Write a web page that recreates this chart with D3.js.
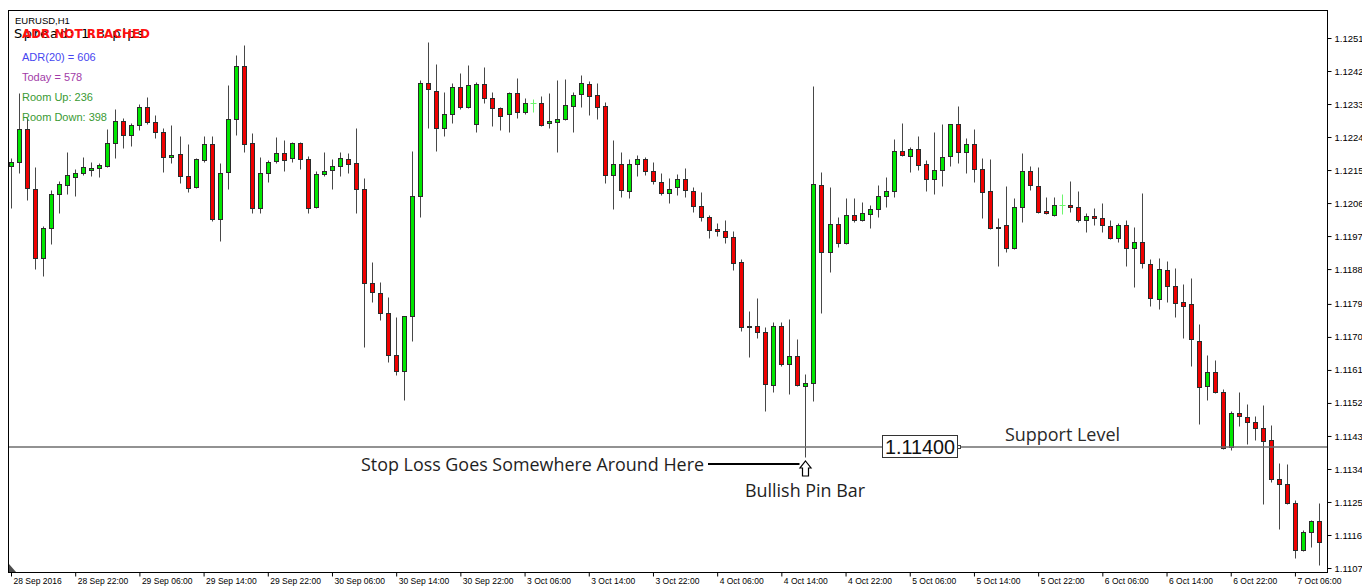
<!DOCTYPE html>
<html>
<head>
<meta charset="utf-8">
<script src="https://cdn.jsdelivr.net/npm/d3@7"></script>
<style>
  html, body { margin: 0; padding: 0; background: #fff; }
  svg { display: block; }
</style>
</head>
<body>
<div id="chart"></div>
<script>
// EURUSD H1 candles (28 Sep 2016 14:00 .. 7 Oct 2016)
const opens = [
  1.12166,1.12177,1.12267,1.12103,1.11915,1.11997,1.12090,1.12114,1.12136,1.12147,
  1.12155,1.12161,1.12166,1.12229,1.12289,1.12251,1.12278,1.12327,1.12286,1.12259,
  1.12191,1.12199,1.12139,1.12109,1.12182,1.12226,1.12022,1.12150,1.12294,1.12439,
  1.12229,1.12052,1.12147,1.12180,1.12201,1.12188,1.12229,1.12185,1.12054,1.12144,
  1.12155,1.12166,1.12185,1.12174,1.12103,1.11847,1.11820,1.11765,1.11651,1.11607,
  1.11757,1.12084,1.12392,1.12370,1.12270,1.12308,1.12381,1.12327,1.12281,1.12390,
  1.12351,1.12324,1.12308,1.12365,1.12313,1.12338,1.12338,1.12283,1.12286,1.12294,
  1.12330,1.12362,1.12390,1.12360,1.12330,1.12142,1.12172,1.12098,1.12172,1.12185,
  1.12152,1.12122,1.12093,1.12109,1.12131,1.12098,1.12057,1.12027,1.11994,1.11989,
  1.11973,1.11904,1.11730,1.11730,1.11714,1.11569,1.11730,1.11626,1.11648,1.11566,
  1.11575,1.12114,1.11932,1.12008,1.11956,1.12033,1.12019,1.12035,1.12049,1.12084,
  1.12098,1.12207,1.12193,1.12212,1.12172,1.12131,1.12155,1.12193,1.12281,1.12204,
  1.12226,1.12158,1.12098,1.12000,1.12005,1.11943,1.12054,1.12152,1.12112,1.12043,
  1.12033,1.12060,1.12060,1.12054,1.12019,1.12030,1.12024,1.12003,1.11970,1.12005,
  1.11943,1.11959,1.11899,1.11803,1.11883,1.11839,1.11795,1.11790,1.11689,1.11566,
  1.11605,1.11550,1.11400,1.11493,1.11482,1.11468,1.11452,1.11419,1.11313,1.11299,
  1.11247,1.11119,1.11168,1.11199
];
const highs = [
  1.12188,1.12365,1.12297,1.12163,1.12003,1.12101,1.12125,1.12204,1.12158,1.12191,
  1.12177,1.12174,1.12267,1.12321,1.12297,1.12283,1.12335,1.12354,1.12305,1.12270,
  1.12278,1.12248,1.12226,1.12188,1.12248,1.12248,1.12174,1.12387,1.12469,1.12496,
  1.12256,1.12191,1.12182,1.12245,1.12237,1.12232,1.12232,1.12193,1.12152,1.12204,
  1.12185,1.12204,1.12201,1.12270,1.12133,1.11904,1.11850,1.11809,1.11754,1.11757,
  1.12207,1.12400,1.12504,1.12444,1.12368,1.12392,1.12420,1.12441,1.12395,1.12436,
  1.12368,1.12327,1.12368,1.12406,1.12351,1.12349,1.12357,1.12365,1.12400,1.12403,
  1.12368,1.12414,1.12398,1.12392,1.12340,1.12237,1.12204,1.12185,1.12196,1.12191,
  1.12177,1.12147,1.12133,1.12144,1.12161,1.12109,1.12095,1.12033,1.12011,1.12019,
  1.11989,1.11913,1.11771,1.11806,1.11727,1.11741,1.11741,1.11749,1.11694,1.11599,
  1.12384,1.12150,1.12109,1.12027,1.12079,1.12079,1.12068,1.12060,1.12114,1.12136,
  1.12240,1.12283,1.12218,1.12248,1.12182,1.12259,1.12281,1.12281,1.12330,1.12242,
  1.12267,1.12188,1.12185,1.12024,1.12112,1.12079,1.12201,1.12166,1.12163,1.12082,
  1.12082,1.12090,1.12125,1.12098,1.12038,1.12052,1.12065,1.12019,1.12011,1.12019,
  1.12000,1.12093,1.11913,1.11915,1.11907,1.11888,1.11844,1.11861,1.11735,1.11651,
  1.11637,1.11558,1.11498,1.11550,1.11517,1.11485,1.11515,1.11460,1.11357,1.11354,
  1.11256,1.11174,1.11201,1.11247
];
const lows = [
  1.12052,1.12147,1.12073,1.11885,1.11866,1.11954,1.12038,1.12090,1.12084,1.12142,
  1.12139,1.12136,1.12163,1.12188,1.12215,1.12221,1.12264,1.12281,1.12242,1.12150,
  1.12174,1.12120,1.12095,1.12106,1.12177,1.12016,1.11962,1.12103,1.12251,1.12204,
  1.12038,1.12038,1.12122,1.12174,1.12152,1.12177,1.12158,1.12038,1.12052,1.12139,
  1.12103,1.12139,1.12147,1.12038,1.11673,1.11795,1.11746,1.11632,1.11596,1.11528,
  1.11689,1.12027,1.12270,1.12207,1.12248,1.12283,1.12321,1.12324,1.12259,1.12338,
  1.12275,1.12264,1.12259,1.12297,1.12308,1.12313,1.12275,1.12270,1.12204,1.12291,
  1.12259,1.12327,1.12305,1.12294,1.12120,1.12049,1.12082,1.12079,1.12139,1.12142,
  1.12117,1.12087,1.12065,1.12087,1.12082,1.12041,1.12016,1.11970,1.11975,1.11956,
  1.11883,1.11716,1.11645,1.11697,1.11498,1.11550,1.11621,1.11545,1.11566,1.11373,
  1.11525,1.11765,1.11877,1.11945,1.11954,1.12013,1.12016,1.11997,1.12027,1.12054,
  1.12082,1.12193,1.12150,1.12155,1.12098,1.12090,1.12112,1.12166,1.12174,1.12147,
  1.12122,1.12024,1.11994,1.11894,1.11932,1.11940,1.12013,1.12101,1.12038,1.12035,
  1.12030,1.12035,1.12041,1.12013,1.11986,1.12005,1.11986,1.11968,1.11959,1.11894,
  1.11836,1.11888,1.11784,1.11776,1.11795,1.11754,1.11697,1.11621,1.11463,1.11528,
  1.11548,1.11395,1.11392,1.11457,1.11408,1.11419,1.11245,1.11305,1.11177,1.11245,
  1.11098,1.11116,1.11127,1.11078
];
const closes = [
  1.12177,1.12267,1.12106,1.11915,1.11997,1.12090,1.12117,1.12142,1.12147,1.12163,
  1.12161,1.12169,1.12229,1.12289,1.12251,1.12278,1.12327,1.12286,1.12259,1.12191,
  1.12196,1.12139,1.12106,1.12185,1.12226,1.12022,1.12147,1.12294,1.12439,1.12226,
  1.12052,1.12147,1.12177,1.12201,1.12182,1.12229,1.12185,1.12052,1.12144,1.12152,
  1.12166,1.12188,1.12172,1.12103,1.11847,1.11823,1.11765,1.11651,1.11607,1.11757,
  1.12084,1.12392,1.12376,1.12270,1.12308,1.12381,1.12327,1.12387,1.12390,1.12351,
  1.12324,1.12302,1.12365,1.12313,1.12338,1.12338,1.12278,1.12289,1.12294,1.12332,
  1.12360,1.12392,1.12357,1.12327,1.12142,1.12172,1.12101,1.12172,1.12185,1.12152,
  1.12125,1.12093,1.12103,1.12131,1.12101,1.12057,1.12027,1.11992,1.11989,1.11973,
  1.11902,1.11727,1.11729,1.11714,1.11572,1.11730,1.11626,1.11648,1.11569,1.11575,
  1.12117,1.11932,1.12008,1.11956,1.12033,1.12019,1.12038,1.12049,1.12084,1.12098,
  1.12207,1.12196,1.12212,1.12169,1.12131,1.12155,1.12191,1.12281,1.12204,1.12226,
  1.12158,1.12095,1.11997,1.11999,1.11943,1.12054,1.12152,1.12114,1.12041,1.12038,
  1.12060,1.12060,1.12054,1.12019,1.12030,1.12024,1.12005,1.11970,1.12005,1.11943,
  1.11959,1.11902,1.11806,1.11885,1.11839,1.11793,1.11784,1.11694,1.11564,1.11605,
  1.11550,1.11397,1.11493,1.11485,1.11468,1.11452,1.11416,1.11313,1.11299,1.11247,
  1.11119,1.11168,1.11199,1.11141
];

// time labels, one every 8 bars starting at bar 0
const timeLabels = [
  '28 Sep 2016', '28 Sep 22:00', '29 Sep 06:00', '29 Sep 14:00', '29 Sep 22:00',
  '30 Sep 06:00', '30 Sep 14:00', '30 Sep 22:00', '3 Oct 06:00', '3 Oct 14:00',
  '3 Oct 22:00', '4 Oct 06:00', '4 Oct 14:00', '4 Oct 22:00', '5 Oct 06:00',
  '5 Oct 14:00', '5 Oct 22:00', '6 Oct 06:00', '6 Oct 14:00', '6 Oct 22:00',
  '7 Oct 06:00'
];
const labelStep = 8;

// price scale labels on the right
const priceTicks = [
  1.12515, 1.12425, 1.12335, 1.12245, 1.12155, 1.12065, 1.11975, 1.11885, 1.11790,
  1.11700, 1.11610, 1.11520, 1.11430, 1.11340, 1.11250, 1.11160, 1.11070
];

const supportLevel = 1.11400;
const pinBarIndex = 99;

// indicator panel text (top-left)
const infoLines = [
  { text: 'ADR(20) = 606', color: '#4646f0' },
  { text: 'Today = 578', color: '#a23ca8' },
  { text: 'Room Up: 236', color: '#3a9a34' },
  { text: 'Room Down: 398', color: '#3a9a34' }
];

// ---- layout ----
const W = 1362, H = 586;
const frame = { left: 8.5, top: 10.5, right: 1327.5, bottom: 572.5 };

const svg = d3.select('#chart')
  .append('svg')
  .attr('width', W)
  .attr('height', H)
  .style('font-family', '"Liberation Sans", Arial, sans-serif');

svg.append('rect').attr('width', W).attr('height', H).attr('fill', '#fff');

const x = d3.scaleLinear().domain([0, opens.length - 1]).range([11, 1319]);
const y = d3.scaleLinear().domain([1.11070, 1.12515]).range([568, 38]);

const bars = opens.map((o, i) => ({ i, o, h: highs[i], l: lows[i], c: closes[i] }));

// clip to chart window
svg.append('defs').append('clipPath').attr('id', 'plot-clip')
  .append('rect')
  .attr('x', frame.left).attr('y', frame.top)
  .attr('width', frame.right - frame.left).attr('height', frame.bottom - frame.top);

const plot = svg.append('g').attr('clip-path', 'url(#plot-clip)');

const px = i => Math.round(x(i)) + 0.5;
const py = v => Math.round(y(v)) + 0.5;
const isDoji = d => d.o === d.c;

// wicks
plot.append('g')
  .selectAll('line')
  .data(bars)
  .join('line')
  .attr('x1', d => px(d.i)).attr('x2', d => px(d.i))
  .attr('y1', d => py(d.h)).attr('y2', d => py(d.l))
  .attr('stroke', d => isDoji(d) ? '#6cf56c' : '#474747')
  .attr('stroke-width', 1);

// bodies
plot.append('g')
  .selectAll('rect')
  .data(bars.filter(d => !isDoji(d)))
  .join('rect')
  .attr('x', d => px(d.i) - 2)
  .attr('y', d => py(Math.max(d.o, d.c)))
  .attr('width', 4)
  .attr('height', d => Math.max(1, py(Math.min(d.o, d.c)) - py(Math.max(d.o, d.c))))
  .attr('fill', d => d.c > d.o ? '#00e600' : '#f00000')
  .attr('stroke', '#2b2b2b')
  .attr('stroke-width', 1);

// doji crosses
plot.append('g')
  .selectAll('line')
  .data(bars.filter(isDoji))
  .join('line')
  .attr('x1', d => px(d.i) - 3).attr('x2', d => px(d.i) + 3)
  .attr('y1', d => py(d.o)).attr('y2', d => py(d.o))
  .attr('stroke', '#6cf56c');

// support line at 1.11400
plot.append('line')
  .attr('x1', frame.left).attr('x2', frame.right)
  .attr('y1', y(supportLevel)).attr('y2', y(supportLevel))
  .attr('stroke', '#6e6e6e')
  .attr('stroke-width', 1.6);

// frame
svg.append('rect')
  .attr('x', frame.left).attr('y', frame.top)
  .attr('width', frame.right - frame.left).attr('height', frame.bottom - frame.top)
  .attr('fill', 'none')
  .attr('stroke', '#000');

svg.append('path')
  .attr('d', `M9,564 L9,572 L16,572 Z`)
  .attr('fill', '#4c4c4c');

// right price axis
const yAxis = d3.axisRight(y)
  .tickValues(priceTicks)
  .tickSize(4)
  .tickPadding(3)
  .tickFormat(d3.format('.5f'));

svg.append('g')
  .attr('transform', `translate(${frame.right},0)`)
  .call(yAxis)
  .call(g => g.select('.domain').remove())
  .call(g => g.selectAll('line').attr('stroke', '#000'))
  .call(g => g.selectAll('text')
    .attr('fill', '#000')
    .style('font-size', '9.5px')
    .style('font-family', '"Liberation Sans", Arial, sans-serif'));

// bottom time axis
const labelIdx = timeLabels.map((_, k) => k * labelStep);
const xAxis = d3.axisBottom(x)
  .tickValues(labelIdx)
  .tickSize(4)
  .tickFormat((d, k) => timeLabels[k]);

svg.append('g')
  .attr('transform', `translate(0,${frame.bottom})`)
  .call(xAxis)
  .call(g => g.select('.domain').remove())
  .call(g => g.selectAll('line').attr('stroke', '#000'))
  .call(g => g.selectAll('text')
    .attr('fill', '#000')
    .attr('text-anchor', 'start')
    .attr('x', 2)
    .attr('y', 5)
    .attr('dy', '0.71em')
    .style('font-size', '8.5px')
    .style('font-family', '"Liberation Sans", Arial, sans-serif'));

// ---- annotations ----
const ann = svg.append('g');

ann.append('text')
  .attr('x', 15).attr('y', 24)
  .style('font-size', '9.5px')
  .attr('fill', '#000')
  .text('EURUSD,H1');

ann.append('text')
  .attr('x', 14).attr('y', 38)
  .style('font-size', '13px')
  .style('font-family', '"DejaVu Sans", sans-serif')
  .attr('textLength', 130)
  .attr('fill', '#000')
  .text('Spread: 1.3 pips');

ann.append('text')
  .attr('x', 22).attr('y', 38)
  .style('font-size', '13px')
  .style('font-weight', 'bold')
  .style('font-family', '"DejaVu Sans", sans-serif')
  .attr('textLength', 128)
  .attr('lengthAdjust', 'spacingAndGlyphs')
  .attr('fill', '#ff1010')
  .text('ADR NOT REACHED');

ann.selectAll('text.info')
  .data(infoLines)
  .join('text')
  .attr('class', 'info')
  .attr('x', 22)
  .attr('y', (d, k) => 61 + k * 20)
  .style('font-size', '11px')
  .style('font-family', '"Liberation Sans", Arial, sans-serif')
  .attr('fill', d => d.color)
  .text(d => d.text);

// price label box on the support line
const sy = y(supportLevel);
ann.append('rect')
  .attr('x', 882.5).attr('y', Math.round(sy) - 11.5)
  .attr('width', 75).attr('height', 22)
  .attr('fill', '#fff')
  .attr('stroke', '#333');
ann.append('text')
  .attr('x', 885).attr('y', Math.round(sy) + 7)
  .style('font-size', '20px')
  .attr('textLength', 70)
  .attr('lengthAdjust', 'spacingAndGlyphs')
  .attr('fill', '#111')
  .text(d3.format('.5f')(supportLevel));
ann.append('rect')
  .attr('x', 957.5).attr('y', Math.round(sy) - 1.5)
  .attr('width', 3).attr('height', 3)
  .attr('fill', '#fff')
  .attr('stroke', '#444');

ann.append('text')
  .attr('x', 1005).attr('y', sy - 6)
  .style('font-size', '18px')
  .style('font-family', '"Open Sans", sans-serif')
  .attr('textLength', 115)
  .attr('lengthAdjust', 'spacingAndGlyphs')
  .attr('fill', '#2a2a2a')
  .text('Support Level');

// stop loss note, pointer line and arrow under the pin bar
const ax = px(pinBarIndex);
ann.append('text')
  .attr('x', 361).attr('y', 471)
  .style('font-size', '18px')
  .style('font-family', '"Open Sans", sans-serif')
  .attr('textLength', 343)
  .attr('lengthAdjust', 'spacingAndGlyphs')
  .attr('fill', '#1e1e1e')
  .text('Stop Loss Goes Somewhere Around Here');

ann.append('line')
  .attr('x1', 708).attr('x2', ax - 6)
  .attr('y1', 464).attr('y2', 464)
  .attr('stroke', '#000')
  .attr('stroke-width', 2);

ann.append('path')
  .attr('d', `M${ax},461 L${ax + 5.5},468 L${ax + 3},468 L${ax + 3},476 L${ax - 3},476 L${ax - 3},468 L${ax - 5.5},468 Z`)
  .attr('fill', '#fff')
  .attr('stroke', '#000')
  .attr('stroke-width', 1.2);

ann.append('text')
  .attr('x', 745).attr('y', 497)
  .style('font-size', '18px')
  .style('font-family', '"Open Sans", sans-serif')
  .attr('textLength', 120)
  .attr('lengthAdjust', 'spacingAndGlyphs')
  .attr('fill', '#1e1e1e')
  .text('Bullish Pin Bar');
</script>
</body>
</html>
